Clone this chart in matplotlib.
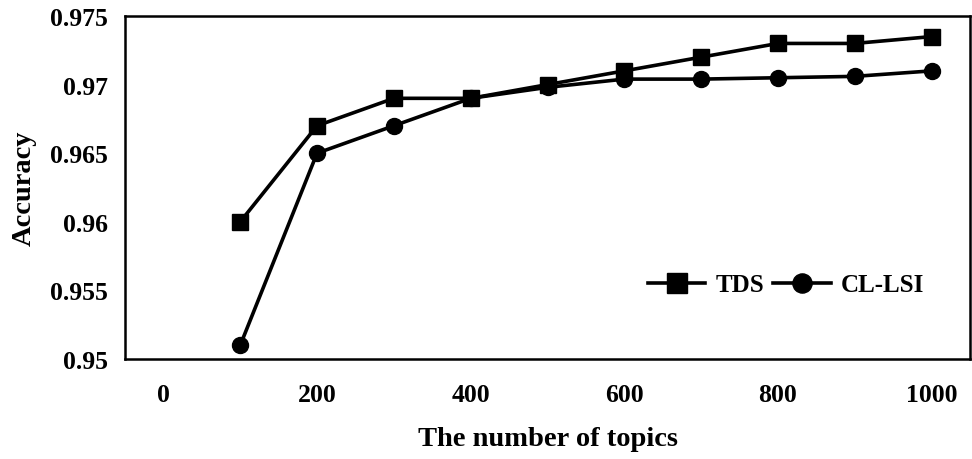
import matplotlib
matplotlib.use("Agg")
import matplotlib.pyplot as plt

topics = [100, 200, 300, 400, 500, 600, 700, 800, 900, 1000]
tds = [0.960, 0.967, 0.969, 0.969, 0.970, 0.971, 0.972, 0.973, 0.973, 0.9735]
cl_lsi = [0.951, 0.965, 0.967, 0.969, 0.9698, 0.9704, 0.9704, 0.9705, 0.9706, 0.971]
xticks = [0, 200, 400, 600, 800, 1000]
yticks = [0.95, 0.955, 0.96, 0.965, 0.97, 0.975]
ytick_labels = ["0.95", "0.955", "0.96", "0.965", "0.97", "0.975"]

plt.rcParams['font.family'] = ['Liberation Serif', 'DejaVu Serif']
plt.rcParams['font.weight'] = 'bold'

fig = plt.figure(figsize=(9.72, 4.6), dpi=100)
ax = fig.add_axes([125/972, 1 - 360/460, (970-125)/972, (360-17)/460])

ax.plot(topics, tds, color='black', lw=2.6, marker='s', ms=12, label='TDS')
ax.plot(topics, cl_lsi, color='black', lw=2.6, marker='o', ms=11.5, label='CL-LSI')

ax.set_xlim(-50, 1050)
ax.set_ylim(0.95, 0.975)
ax.set_xticks(xticks)
ax.set_xticklabels([str(v) for v in xticks])
ax.set_yticks(yticks)
ax.set_yticklabels(ytick_labels)
ax.tick_params(length=0, labelsize=18.5)
ax.tick_params(axis='x', pad=17)
ax.tick_params(axis='y', pad=12)
for s in ax.spines.values():
    s.set_linewidth(1.8)

ax.set_xlabel('The number of topics', fontsize=20.5, fontweight='bold', labelpad=15)
ax.set_ylabel('Accuracy', fontsize=20.5, fontweight='bold', labelpad=10)

leg = ax.legend(loc='center', bbox_to_anchor=((786-125)/845, 1 - (286-17)/343), ncol=2,
                frameon=False, fontsize=18, handlelength=2.3, columnspacing=0.36,
                handletextpad=0.4, markerscale=1.2)

fig.savefig('out.png', dpi=100)
